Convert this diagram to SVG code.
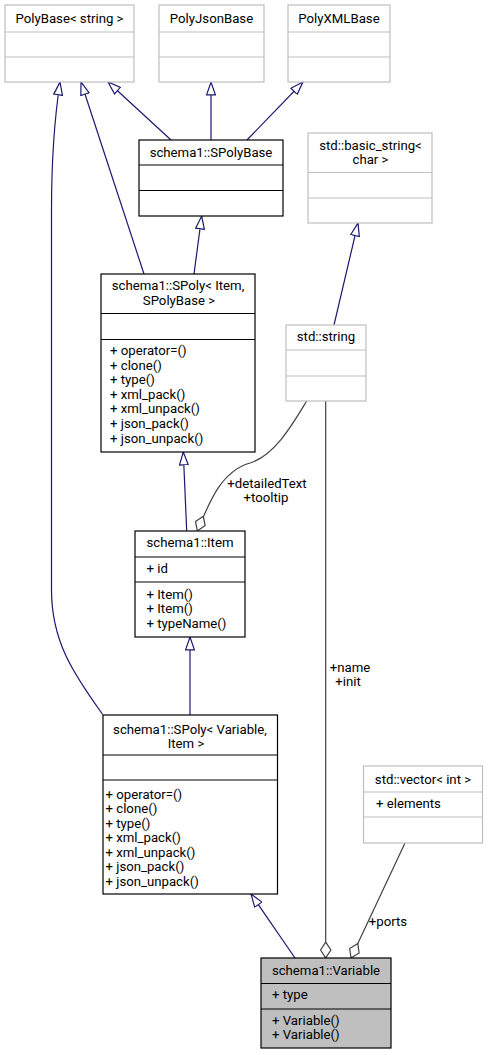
<svg xmlns="http://www.w3.org/2000/svg" width="488" height="1055" viewBox="0 0 488 1055">
<style>
text{font-family:Roboto,"Liberation Sans",Arial,sans-serif;font-size:13.2px;fill:#000}
.c{text-anchor:middle}
.box{fill:#fff;stroke:#000;stroke-width:1.2}
.ext{fill:#fff;stroke:#bfbfbf;stroke-width:1.2}
.cur{fill:#bfbfbf;stroke:#000;stroke-width:1.2}
.dk{stroke:#000;stroke-width:1.2}
.lt{stroke:#bfbfbf;stroke-width:1.2}
.inh{fill:none;stroke:#191970;stroke-width:1.2;marker-end:url(#inh)}
.agg{fill:none;stroke:#404040;stroke-width:1.2;marker-end:url(#agg)}
</style>
<defs>
<marker id="inh" viewBox="0 0 14 10" refX="13.5" refY="5" markerWidth="14" markerHeight="10" markerUnits="userSpaceOnUse" orient="auto">
<path d="M0.6,0.6 L13.4,5 L0.6,9.4 Z" fill="#fff" stroke="#191970" stroke-width="1.2"/>
</marker>
<marker id="agg" viewBox="0 0 17 12" refX="16.5" refY="6" markerWidth="17" markerHeight="12" markerUnits="userSpaceOnUse" orient="auto">
<path d="M0.6,6 L8.5,0.8 L16.4,6 L8.5,11.2 Z" fill="#fff" stroke="#404040" stroke-width="1.2"/>
</marker>
</defs>
<rect width="488" height="1055" fill="#fff"/>

<g id="edges">
<path class="inh" d="M171,140 L108,82"/>
<path class="inh" d="M211,140 L211,82"/>
<path class="inh" d="M247,140 L303,82"/>
<path class="inh" d="M144,274 L81,82"/>
<path class="inh" d="M102.7,714.5 C72,672 51.5,640 51.5,590 L51.5,210 C51.5,150 55.5,112 60,82"/>
<path class="inh" d="M194,274 L201.7,216"/>
<path class="inh" d="M334,325 L358,223"/>
<path class="inh" d="M186.7,531 L183.3,452"/>
<path class="inh" d="M190,715 L190,637"/>
<path class="inh" d="M295,958 L251,894"/>
<path class="agg" d="M306.7,401 C292,425 275,455 250,463 C222,471 210,500 197.3,531"/>
<path class="agg" d="M325.7,401 L325.7,958"/>
<path class="agg" d="M405,843 L351,958"/>
<text class="c" x="267" y="488">+detailedText</text>
<text class="c" x="266" y="501.5">+tooltip</text>
<text class="c" x="350" y="672">+name</text>
<text class="c" x="348" y="686">+init</text>
<text class="c" x="388" y="926">+ports</text>
</g>

<g id="PolyBase">
<rect class="ext" x="5" y="5" width="129" height="77"/>
<line class="lt" x1="5" y1="32" x2="134" y2="32"/>
<line class="lt" x1="5" y1="57" x2="134" y2="57"/>
<text class="c" x="69.5" y="22.5">PolyBase&lt; string &gt;</text>
</g>

<g id="PolyJsonBase">
<rect class="ext" x="159" y="5" width="105" height="77"/>
<line class="lt" x1="159" y1="32" x2="264" y2="32"/>
<line class="lt" x1="159" y1="57" x2="264" y2="57"/>
<text class="c" x="211.5" y="22.5">PolyJsonBase</text>
</g>

<g id="PolyXMLBase">
<rect class="ext" x="288" y="5" width="102" height="77"/>
<line class="lt" x1="288" y1="32" x2="390" y2="32"/>
<line class="lt" x1="288" y1="57" x2="390" y2="57"/>
<text class="c" x="339" y="22.5">PolyXMLBase</text>
</g>

<g id="SPolyBase">
<rect class="box" x="139" y="140" width="144" height="76"/>
<line class="dk" x1="139" y1="165" x2="283" y2="165"/>
<line class="dk" x1="139" y1="190.5" x2="283" y2="190.5"/>
<text class="c" x="211" y="156.5">schema1::SPolyBase</text>
</g>

<g id="basic_string">
<rect class="ext" x="308" y="133" width="124" height="90"/>
<line class="lt" x1="308" y1="172.5" x2="432" y2="172.5"/>
<line class="lt" x1="308" y1="198" x2="432" y2="198"/>
<text class="c" x="370.5" y="149.5">std::basic_string&lt;</text>
<text class="c" x="370.5" y="163.5">char &gt;</text>
</g>

<g id="SPolyItem">
<rect class="box" x="101" y="274" width="154" height="178"/>
<line class="dk" x1="101" y1="313.5" x2="255" y2="313.5"/>
<line class="dk" x1="101" y1="339.5" x2="255" y2="339.5"/>
<text class="c" x="178" y="290">schema1::SPoly&lt; Item,</text>
<text class="c" x="179" y="305">SPolyBase &gt;</text>
<text x="110" y="355">+ operator=()</text>
<text x="110" y="369.6">+ clone()</text>
<text x="110" y="384.2">+ type()</text>
<text x="110" y="398.8">+ xml_pack()</text>
<text x="110" y="413.4">+ xml_unpack()</text>
<text x="110" y="428">+ json_pack()</text>
<text x="110" y="442.6">+ json_unpack()</text>
</g>

<g id="string">
<rect class="ext" x="286" y="325" width="80" height="76"/>
<line class="lt" x1="286" y1="350" x2="366" y2="350"/>
<line class="lt" x1="286" y1="376" x2="366" y2="376"/>
<text class="c" x="326" y="341">std::string</text>
</g>

<g id="Item">
<rect class="box" x="135" y="531" width="110" height="106"/>
<line class="dk" x1="135" y1="557" x2="245" y2="557"/>
<line class="dk" x1="135" y1="582" x2="245" y2="582"/>
<text class="c" x="190" y="546.5">schema1::Item</text>
<text x="146.5" y="572.5">+ id</text>
<text x="146.5" y="598.5">+ Item()</text>
<text x="146.5" y="613">+ Item()</text>
<text x="146.5" y="627.5">+ typeName()</text>
</g>

<g id="SPolyVariable">
<rect class="box" x="103" y="715" width="174.5" height="179"/>
<line class="dk" x1="103" y1="755" x2="277.5" y2="755"/>
<line class="dk" x1="103" y1="780" x2="277.5" y2="780"/>
<text class="c" x="190" y="733.5">schema1::SPoly&lt; Variable,</text>
<text class="c" x="186" y="747.5">Item &gt;</text>
<text x="105.5" y="798.5">+ operator=()</text>
<text x="105.5" y="813">+ clone()</text>
<text x="105.5" y="827.5">+ type()</text>
<text x="105.5" y="842">+ xml_pack()</text>
<text x="105.5" y="856.5">+ xml_unpack()</text>
<text x="105.5" y="871">+ json_pack()</text>
<text x="105.5" y="885.5">+ json_unpack()</text>
</g>

<g id="vector">
<rect class="ext" x="363.5" y="766" width="119" height="77"/>
<line class="lt" x1="363.5" y1="792" x2="482.5" y2="792"/>
<line class="lt" x1="363.5" y1="817" x2="482.5" y2="817"/>
<text class="c" x="423" y="783.5">std::vector&lt; int &gt;</text>
<text x="376" y="807.5">+ elements</text>
</g>

<g id="Variable">
<rect class="cur" x="261" y="958" width="130" height="90"/>
<line class="dk" x1="261" y1="983.5" x2="391" y2="983.5"/>
<line class="dk" x1="261" y1="1009" x2="391" y2="1009"/>
<text class="c" x="326" y="974.5">schema1::Variable</text>
<text x="272" y="999">+ type</text>
<text x="272" y="1025">+ Variable()</text>
<text x="272" y="1039">+ Variable()</text>
</g>
</svg>
